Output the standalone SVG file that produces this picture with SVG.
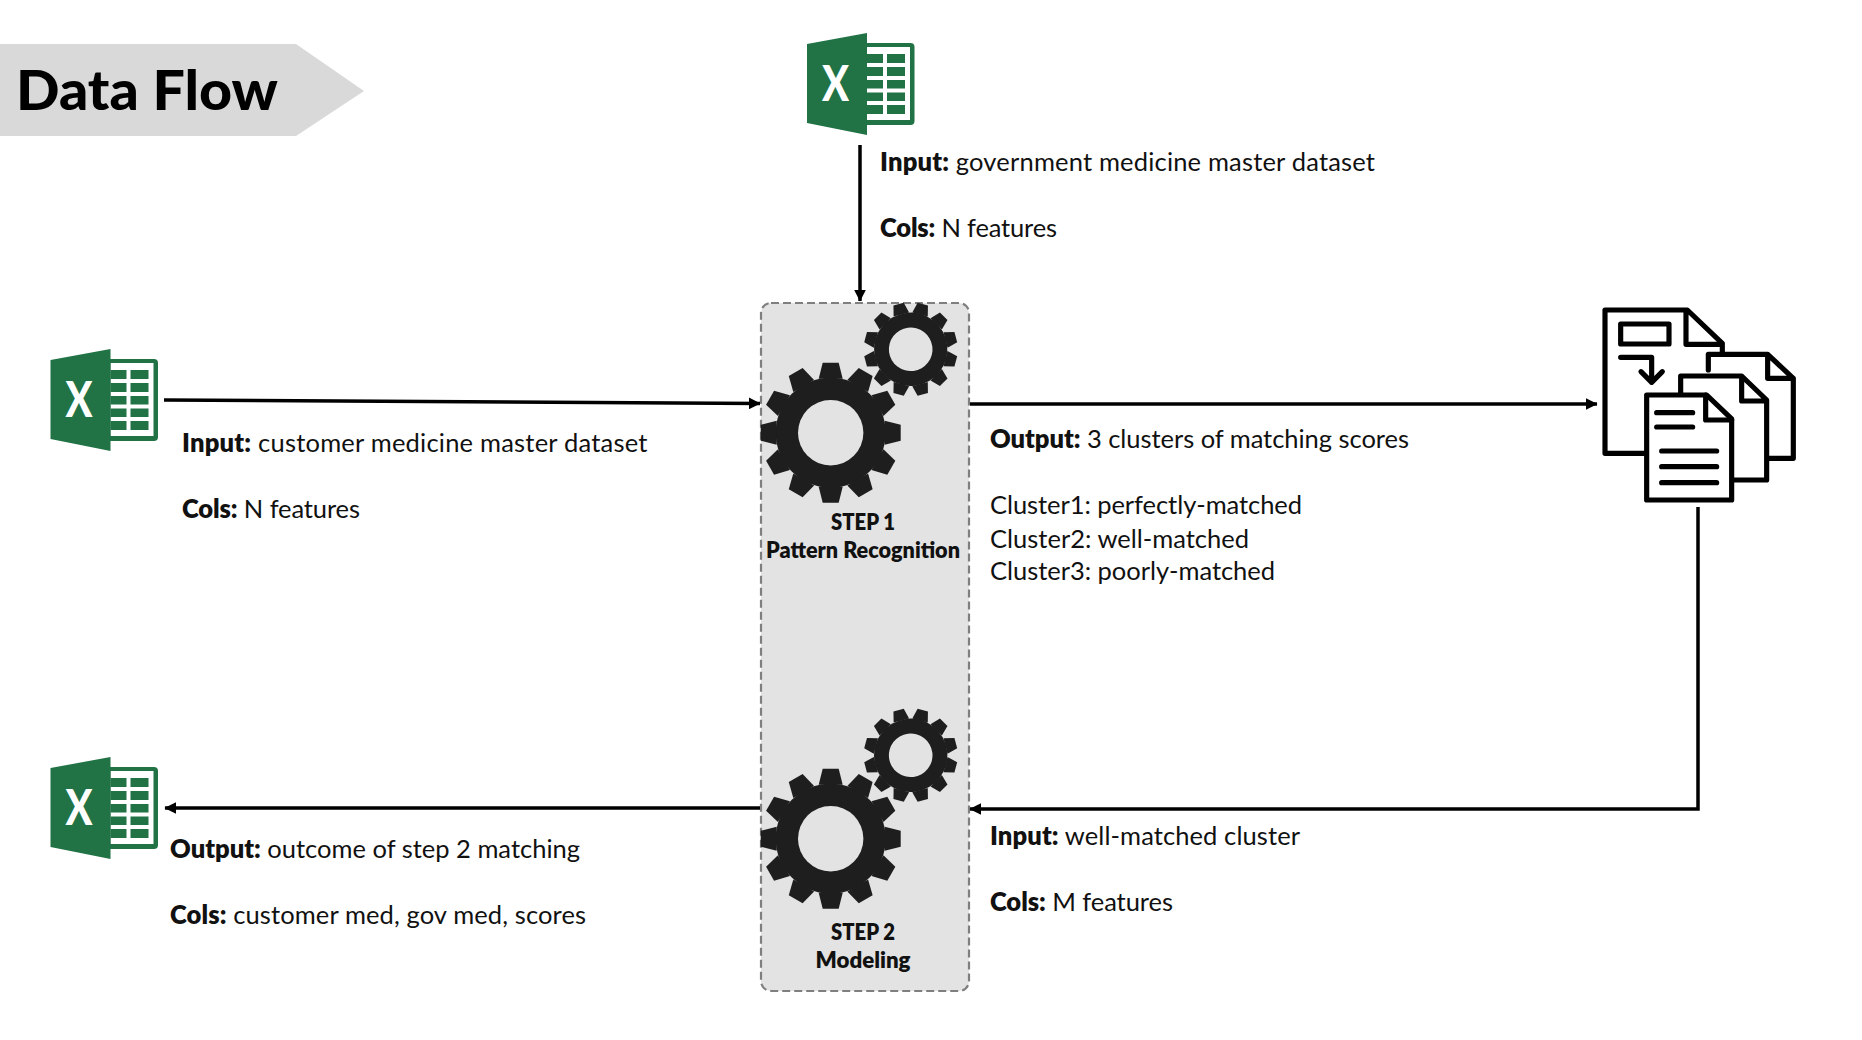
<svg xmlns="http://www.w3.org/2000/svg" width="1862" height="1040" viewBox="0 0 1862 1040">
<style>
text{font-family:"Lato","Open Sans","Liberation Sans",sans-serif;fill:#111}
.l{font-size:25.5px}
.b{font-weight:800}
.s{font-size:22px;font-weight:800;text-anchor:middle}
.c{fill:none;stroke:#000;stroke-width:3.5}
.d{fill:none;stroke:#000;stroke-width:15.5;stroke-linejoin:round;stroke-linecap:round}
.g{fill:#217346}
.w{fill:#fff}
</style>
<defs>
<marker id="a" viewBox="0 0 10 10" refX="9.5" refY="5" markerWidth="3.4" markerHeight="3.4" orient="auto"><path d="M0 0L10 5L0 10z" fill="#000"/></marker>
<g id="xl">
<rect x="55" y="10" width="52.500" height="82" rx="4" class="g"/>
<rect x="60" y="14" width="43" height="73" class="w"/>
<path class="g" d="M60 21h16v9h-16zM80 21h18v9h-18zM60 34h16v9h-16zM80 34h18v9h-18zM60 47h16v8.500h-16zM80 47h18v8.500h-18zM60 59.500h16v8.500h-16zM80 59.500h18v8.500h-18zM60 72h16v9h-16zM80 72h18v9h-18z"/>
<path class="g" d="M0 11L60 0V102L0 90z"/>
<text x="15" y="68" textLength="27" lengthAdjust="spacingAndGlyphs" style="fill:#fff;font-size:50px;font-weight:900">X</text>
</g>
<polygon id="t" points="-12,-54 -8,-70 8,-70 12,-54" fill="#1e1e1e"/>
<g id="gear">
<circle r="55" fill="#1e1e1e"/>
<use href="#t"/><use href="#t" transform="rotate(30)"/><use href="#t" transform="rotate(60)"/><use href="#t" transform="rotate(90)"/><use href="#t" transform="rotate(120)"/><use href="#t" transform="rotate(150)"/><use href="#t" transform="rotate(180)"/><use href="#t" transform="rotate(210)"/><use href="#t" transform="rotate(240)"/><use href="#t" transform="rotate(270)"/><use href="#t" transform="rotate(300)"/><use href="#t" transform="rotate(330)"/>
<circle r="32.700" fill="#e3e3e3"/>
</g>
</defs>
<rect width="1862" height="1040" fill="#fff"/>
<g id="title"><polygon points="0,44 296,44 364,91 296,136 0,136" fill="#d9d9d9"/>
<text x="16" y="110" textLength="262" lengthAdjust="spacingAndGlyphs" style="font-size:56px;font-weight:900;fill:#000">Data Flow</text></g>
<g id="process"><rect x="761" y="303" width="208" height="688" rx="10" fill="#e3e3e3" stroke="#7f7f7f" stroke-width="2.200" stroke-dasharray="8 4"/></g>
<g id="step1"><use href="#gear" x="830.700" y="432.700"/><use href="#gear" transform="translate(910.700 349.300) rotate(15) scale(.667)"/>
<text class="s" x="863" y="529.500" textLength="64" lengthAdjust="spacingAndGlyphs">STEP 1</text><text class="s" x="863" y="558" textLength="194" lengthAdjust="spacingAndGlyphs">Pattern Recognition</text></g>
<g id="step2"><use href="#gear" x="830.700" y="838.700"/><use href="#gear" transform="translate(910.700 755.300) rotate(15) scale(.667)"/>
<text class="s" x="863" y="939.500" textLength="64" lengthAdjust="spacingAndGlyphs">STEP 2</text><text class="s" x="863" y="968" textLength="95" lengthAdjust="spacingAndGlyphs">Modeling</text></g>
<g id="connectors">
<path class="c" marker-end="url(#a)" d="M860 145V301"/>
<path class="c" marker-end="url(#a)" d="M164 400L760 403.500"/>
<path class="c" marker-end="url(#a)" d="M970 404H1597"/>
<path class="c" marker-end="url(#a)" d="M1698 507V809H970"/>
<path class="c" marker-end="url(#a)" d="M760 808H165"/>
</g>
<g id="excel-top"><use href="#xl" x="807" y="33"/></g>
<g id="excel-customer"><use href="#xl" x="50.500" y="349"/></g>
<g id="excel-output"><use href="#xl" x="50.500" y="757"/></g>
<g id="docs" transform="translate(1590 295) scale(.3333)">
<path class="d" fill="#fff" d="M165 475H45V45H292L397 145V175M288 45V148H397"/>
<path class="d" d="M92 87H237V147H92zM92 187H185V260M153 230L185 262L217 230"/>
<path class="d" d="M355 225V178H533L610 250V490H535M533 178V250H610"/>
<path class="d" d="M272 295V243H455L530 315V555H430M455 243V318H530"/>
<path class="d" style="fill:#fff" d="M170 300H350L425 372V615H170z"/>
<path class="d" d="M347 300V375H425M200 353H308M200 396H308M215 468H380M215 515H380M215 563H380"/>
</g>
<g id="label-gov"><text class="l" x="880" y="171" textLength="495"><tspan class="b">Input:</tspan> government medicine master dataset</text><text class="l" x="880" y="237" textLength="177"><tspan class="b">Cols:</tspan> N features</text></g>
<g id="label-customer"><text class="l" x="182" y="452" textLength="465.500"><tspan class="b">Input:</tspan> customer medicine master dataset</text><text class="l" x="182" y="518" textLength="178"><tspan class="b">Cols:</tspan> N features</text></g>
<g id="label-clusters"><text class="l" x="990" y="448" textLength="419"><tspan class="b">Output:</tspan> 3 clusters of matching scores</text><text class="l" x="990" y="514" textLength="312">Cluster1: perfectly-matched</text><text class="l" x="990" y="548" textLength="259">Cluster2: well-matched</text><text class="l" x="990" y="580" textLength="285">Cluster3: poorly-matched</text></g>
<g id="label-outcome"><text class="l" x="170" y="858" textLength="410"><tspan class="b">Output:</tspan> outcome of step 2 matching</text><text class="l" x="170" y="924" textLength="416"><tspan class="b">Cols:</tspan> customer med, gov med, scores</text></g>
<g id="label-well"><text class="l" x="990" y="845" textLength="310"><tspan class="b">Input:</tspan> well-matched cluster</text><text class="l" x="990" y="911" textLength="183"><tspan class="b">Cols:</tspan> M features</text></g>
</svg>
